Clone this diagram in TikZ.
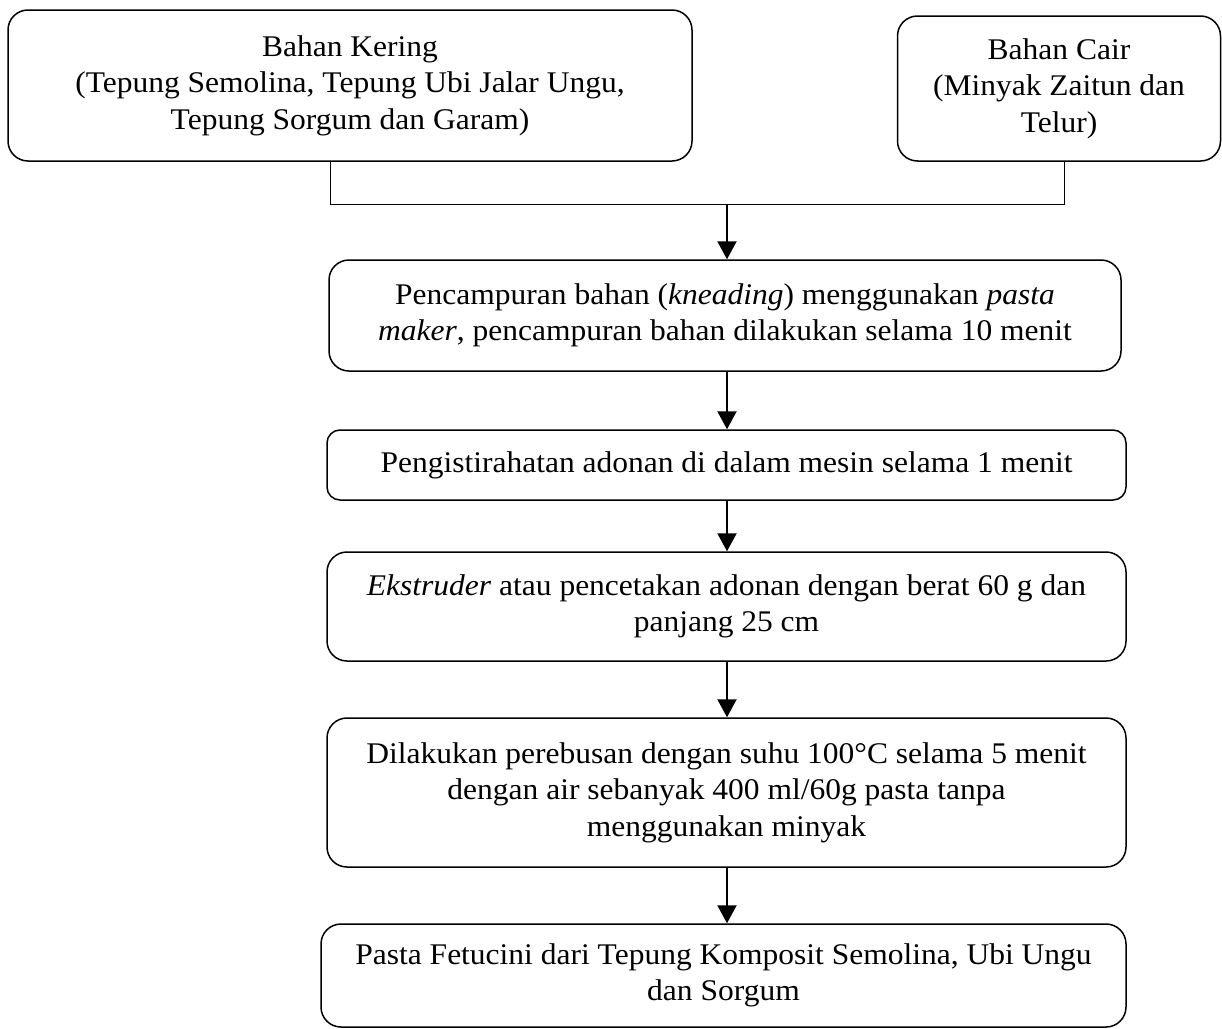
\documentclass[tikz,border=0pt]{standalone}
\usepackage{fontspec}
\setmainfont{Liberation Serif}[FakeStretch=1.05]
\usetikzlibrary{arrows.meta}
\begin{document}
\begin{tikzpicture}[x=1pt,y=-1pt,
  box/.style={draw, line width=1.5pt, rounded corners=20pt, align=center, inner sep=0pt,
    font=\fontsize{30}{36.5}\selectfont},
  smallbox/.style={box, rounded corners=13pt},
  link/.style={line width=1pt},
  flow/.style={line width=2.2pt, -{Triangle[width=19pt,length=18pt]}}]
\useasboundingbox (0,0) rectangle (1222,1028);
\node[box, minimum width=684pt, minimum height=151pt] (b1) at (350,85.5)
  {Bahan Kering\\(Tepung Semolina, Tepung Ubi Jalar Ungu,\\Tepung Sorgum dan Garam)};
\node[box, minimum width=323pt, minimum height=145pt] (b2) at (1059,88.5)
  {Bahan Cair\\(Minyak Zaitun dan\\Telur)};
\node[box, minimum width=792pt, minimum height=111pt] (b3) at (725,315.5)
  {Pencampuran bahan (\textit{kneading}) menggunakan \textit{pasta}\\\textit{maker}, pencampuran bahan dilakukan selama 10 menit};
\node[smallbox, minimum width=799pt, minimum height=70pt] (b4) at (726.5,465)
  {Pengistirahatan adonan di dalam mesin selama 1 menit};
\node[box, minimum width=799pt, minimum height=109pt] (b5) at (726.5,606.5)
  {\textit{Ekstruder} atau pencetakan adonan dengan berat 60 g dan\\panjang 25 cm};
\node[box, minimum width=799pt, minimum height=149pt] (b6) at (726.5,792.5)
  {Dilakukan perebusan dengan suhu 100°C selama 5 menit\\dengan air sebanyak 400 ml/60g pasta tanpa\\menggunakan minyak};
\node[box, minimum width=805pt, minimum height=103pt] (b7) at (723.5,975.5)
  {Pasta Fetucini dari Tepung Komposit Semolina, Ubi Ungu\\dan Sorgum};
\coordinate (j1) at (330,204);
\coordinate (j2) at (1064,204);
\coordinate (ja) at (727,204);
\draw[link] (b1.south -| j1) -- (j1) -- (j2) -- (b2.south -| j2);
\draw[flow] (ja) -- (ja |- b3.north);
\draw[flow] (b3.south -| ja) -- (b4.north -| ja);
\draw[flow] (b4.south -| ja) -- (b5.north -| ja);
\draw[flow] (b5.south -| ja) -- (b6.north -| ja);
\draw[flow] (b6.south -| ja) -- (b7.north -| ja);
\end{tikzpicture}
\end{document}
